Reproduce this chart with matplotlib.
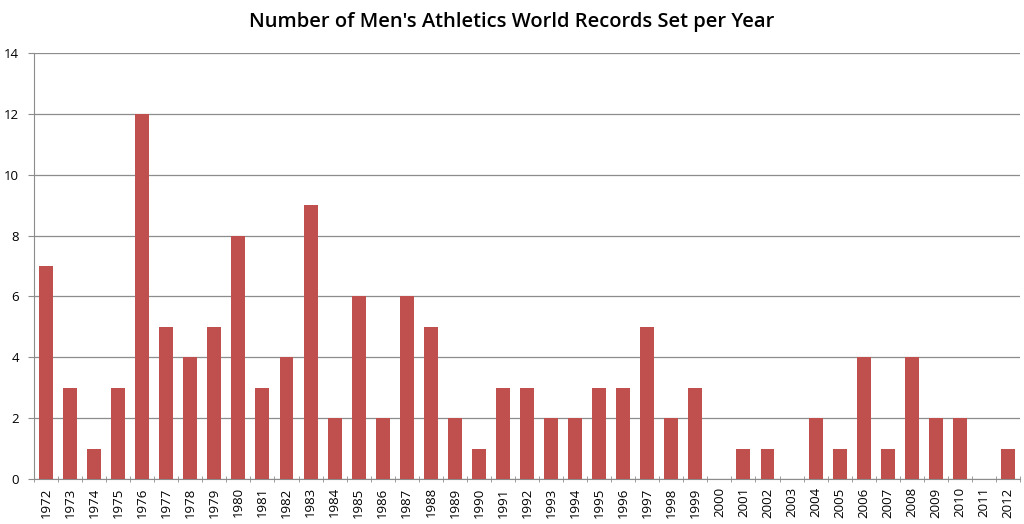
import matplotlib
matplotlib.use("Agg")
import matplotlib.pyplot as plt
import numpy as np

years = [str(y) for y in range(1972, 2013)]
records = [7, 3, 1, 3, 12, 5, 4, 5, 8, 3, 4, 9, 2, 6, 2, 6, 5, 2, 1, 3,
           3, 2, 2, 3, 3, 5, 2, 3, 0, 1, 1, 0, 2, 1, 4, 1, 4, 2, 2, 0, 1]

plt.rcParams['font.family'] = ['Open Sans', 'DejaVu Sans']

fig = plt.figure(figsize=(10.24, 5.24), dpi=100)
ax = fig.add_axes([34 / 1024, 1 - 479 / 524, (1020 - 34) / 1024, (479 - 53) / 524])

x = np.arange(len(years))
ax.bar(x, records, width=0.58, color='#C0504D', zorder=3)

ax.set_xlim(-0.5, len(years) - 0.5)
ax.set_ylim(0, 14)
ax.set_yticks(range(0, 15, 2))
ax.yaxis.grid(True, color='#8c8c8c', linewidth=0.9, zorder=0)

ax.set_xticks(x)
ax.set_xticklabels(years, rotation=90, fontsize=9.5)
ax.set_xticks(np.arange(-0.5, len(years), 1), minor=True)
ax.tick_params(axis='x', which='major', length=0, pad=6)
ax.tick_params(axis='x', which='minor', length=4, direction='inout', color='#8c8c8c')
ax.tick_params(axis='y', labelsize=9.5, length=4, color='#8c8c8c', pad=7)

for side in ['top', 'right']:
    ax.spines[side].set_visible(False)
for side in ['left', 'bottom']:
    ax.spines[side].set_color('#8c8c8c')

fig.text(0.5, 0.958, "Number of Men's Athletics World Records Set per Year",
         ha='center', va='center', fontsize=14.5, fontweight='semibold')

fig.savefig("out.png", dpi=100)
